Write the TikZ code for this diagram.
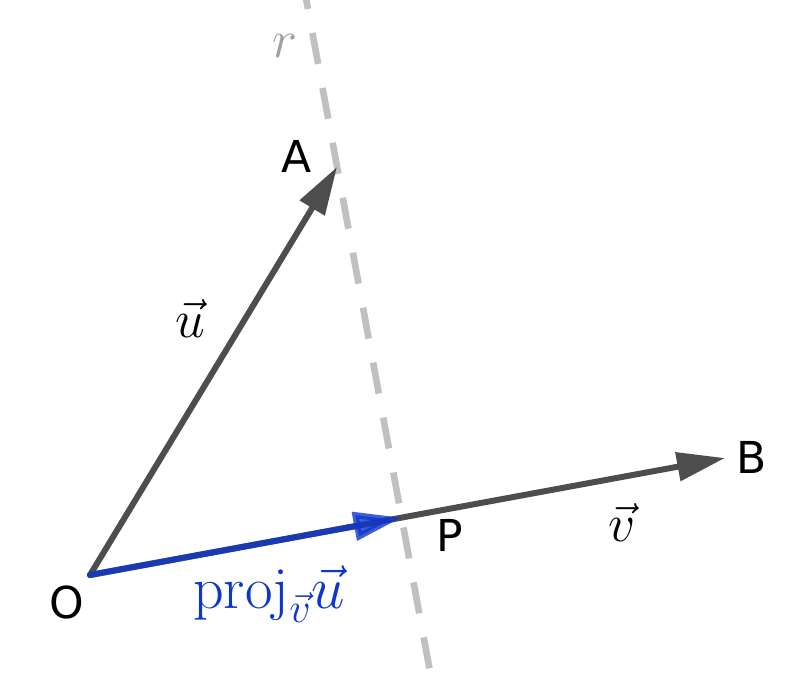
\RequirePackage{fix-cm}
\documentclass[tikz,border=0pt]{standalone}
\usepackage{fontspec}
\newfontfamily\ptfont{DejaVu Sans}
\usetikzlibrary{arrows.meta}
\definecolor{vecgray}{HTML}{4D4D4D}
\definecolor{linegray}{HTML}{C0C0C0}
\definecolor{rgray}{HTML}{A0A0A0}
\definecolor{projblue}{RGB}{13,54,205}
\tikzset{
	vec/.style={draw=vecgray, line width=4.5pt, line cap=round, -{Triangle[length=36pt, width=21pt]}},
	projvec/.style={draw=projblue, line width=4.6pt, line cap=round, opacity=0.8, -{Triangle[length=36pt, width=21pt]}},
	rline/.style={draw=linegray, line width=5pt, dash pattern=on 23.6pt off 18.3pt},
	ptlabel/.style={font=\ptfont\fontsize{33}{40}\selectfont, inner sep=0pt},
	veclabel/.style={font=\fontsize{40}{48}\selectfont, inner sep=0pt}
}

\begin{document}
\begin{tikzpicture}[x=0.75pt, y=-0.75pt]
	\useasboundingbox (0,0) rectangle (810,672);
	
	\coordinate (O) at (90,575);
	\coordinate (A) at (337,167);
	\coordinate (B) at (725,458);
	\coordinate (P) at (401.5,517.6);
	\coordinate (rtop) at (302.3,-22);
	\coordinate (rbot) at (431,677);
	
	\draw [rline] (rtop) -- (rbot);
	
	\draw [vec] (O) -- (A);
	\draw [vec] (O) -- (B);
	\draw [projvec] (O) -- (P);
	
	\node [ptlabel] (labA) at (297,156) {A};
	\node [ptlabel] (labB) at (752,457) {B};
	\node [ptlabel] (labO) at (67,602) {O};
	\node [ptlabel] (labP) at (450,535) {P};
	
	\node [veclabel] (labu) at (190,318) {$\vec{u}$};
	\node [veclabel] (labv) at (622,522) {$\vec{v}$};
	\node [veclabel, text=rgray] (labr) at (285,46) {$r$};
	\node [veclabel, text=projblue, font=\fontsize{45}{54}\selectfont] (labproj) at (269,594) {$\mathrm{proj}_{\vec{v}}\vec{u}$};
		
\end{tikzpicture}
\end{document}
